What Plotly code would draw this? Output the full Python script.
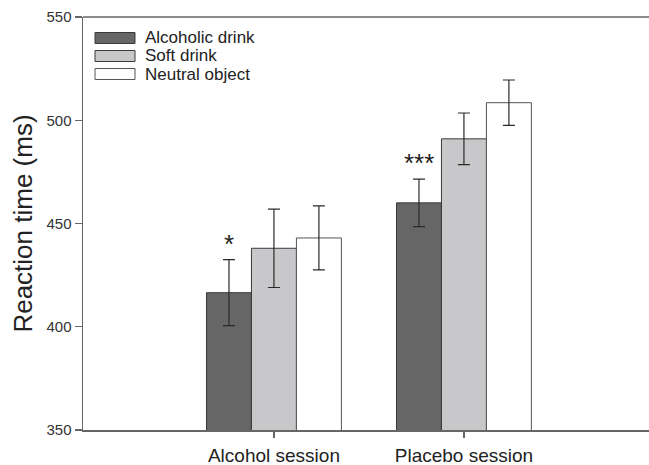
import plotly.graph_objects as go

# ---- data ----
sessions = ["Alcohol session", "Placebo session"]
series_names = ["Alcoholic drink", "Soft drink", "Neutral object"]
alcoholic_drink = [416.5, 460.0]
soft_drink = [438.0, 491.0]
neutral_object = [443.0, 508.5]
alcoholic_err = [16.0, 11.5]
soft_err = [19.0, 12.5]
neutral_err = [15.5, 11.0]
significance = ["*", "***"]
y_ticks = [350, 400, 450, 500, 550]

values = [alcoholic_drink, soft_drink, neutral_object]
errors = [alcoholic_err, soft_err, neutral_err]
fills = ["#666666", "#c8c8ca", "#ffffff"]
outlines = ["#3a3a3a", "#3a3a3a", "#555555"]

FONT = "Liberation Sans, Arial, sans-serif"
x_pos = list(range(len(sessions)))

fig = go.Figure()
for name, vals, errs, fc, lc in zip(series_names, values, errors, fills, outlines):
    fig.add_trace(go.Bar(
        x=x_pos, y=vals, name=name,
        marker=dict(color=fc, line=dict(color=lc, width=1)),
        error_y=dict(type="data", array=errs, visible=True,
                     color="#2a2a2a", thickness=1.2, width=6),
        showlegend=False, hoverinfo="skip",
    ))

# significance markers above the alcoholic-drink bars
group_w = 0.71
bar_w = group_w / 3
for i, s in enumerate(significance):
    top = alcoholic_drink[i] + alcoholic_err[i]
    fig.add_annotation(
        x=x_pos[i] - bar_w, y=top, yref="y", xref="x",
        text=s, showarrow=False, yanchor="bottom", yshift=-1,
        font=dict(family=FONT, size=26, color="#222222"),
    )

# custom legend (wide swatches like the original)
W, H = 649, 465
L, R, T, B = 83, 0, 17, 35
pw, ph = W - L - R, H - T - B

def px_x(p):
    return (p - L) / pw

def px_y(p):
    return (H - B - p) / ph

row_centers = [38.0, 56.0, 74.0]
for name, fc, lc, yc in zip(series_names, fills, outlines, row_centers):
    fig.add_shape(type="rect", xref="paper", yref="paper",
                  x0=px_x(95), x1=px_x(135), y0=px_y(yc - 5.5), y1=px_y(yc + 5.5),
                  fillcolor=fc, line=dict(color=lc, width=1))
    fig.add_annotation(xref="paper", yref="paper", x=px_x(144), y=px_y(yc),
                       text=name, showarrow=False, xanchor="left", yanchor="middle",
                       borderpad=0, height=17,
                       font=dict(family=FONT, size=17, color="#222222"))

# top frame line (the original frame is cut at the right edge)
fig.add_shape(type="line", xref="paper", yref="paper", x0=0, x1=1.02, y0=1, y1=1,
              line=dict(color="#666666", width=1.5))

fig.update_layout(
    width=W, height=H,
    margin=dict(l=L, r=R, t=T, b=B, pad=0),
    paper_bgcolor="white", plot_bgcolor="white",
    barmode="group", bargap=1 - group_w, bargroupgap=0,
    font=dict(family=FONT, color="#222222"),
    hovermode=False,
    xaxis=dict(
        range=[-1.005, 1.974],
        tickmode="array", tickvals=x_pos, ticktext=sessions,
        ticks="outside", ticklen=6, tickwidth=1.2, tickcolor="#666666",
        showline=True, linecolor="#666666", linewidth=1.5, mirror=False,
        showgrid=False, zeroline=False,
        tickfont=dict(family=FONT, size=19, color="#222222"),
        ticklabelstandoff=2,
    ),
    yaxis=dict(
        range=[350, 550],
        tickmode="array", tickvals=y_ticks,
        ticks="outside", ticklen=7, tickwidth=1.2, tickcolor="#666666",
        showline=True, linecolor="#666666", linewidth=1.5, mirror=False,
        showgrid=False, zeroline=False,
        tickfont=dict(family=FONT, size=15, color="#333333"),
        title=dict(text="Reaction time (ms)", font=dict(family=FONT, size=26, color="#222222"),
                   standoff=6),
    ),
)

fig.write_html(
    "out.html",
    config={"displayModeBar": False, "staticPlot": True},
    post_script=(
        "document.body.style.margin='0';document.body.style.padding='0';"
        "document.documentElement.style.overflow='hidden';"
        "document.body.style.overflow='hidden';"
    ),
)
